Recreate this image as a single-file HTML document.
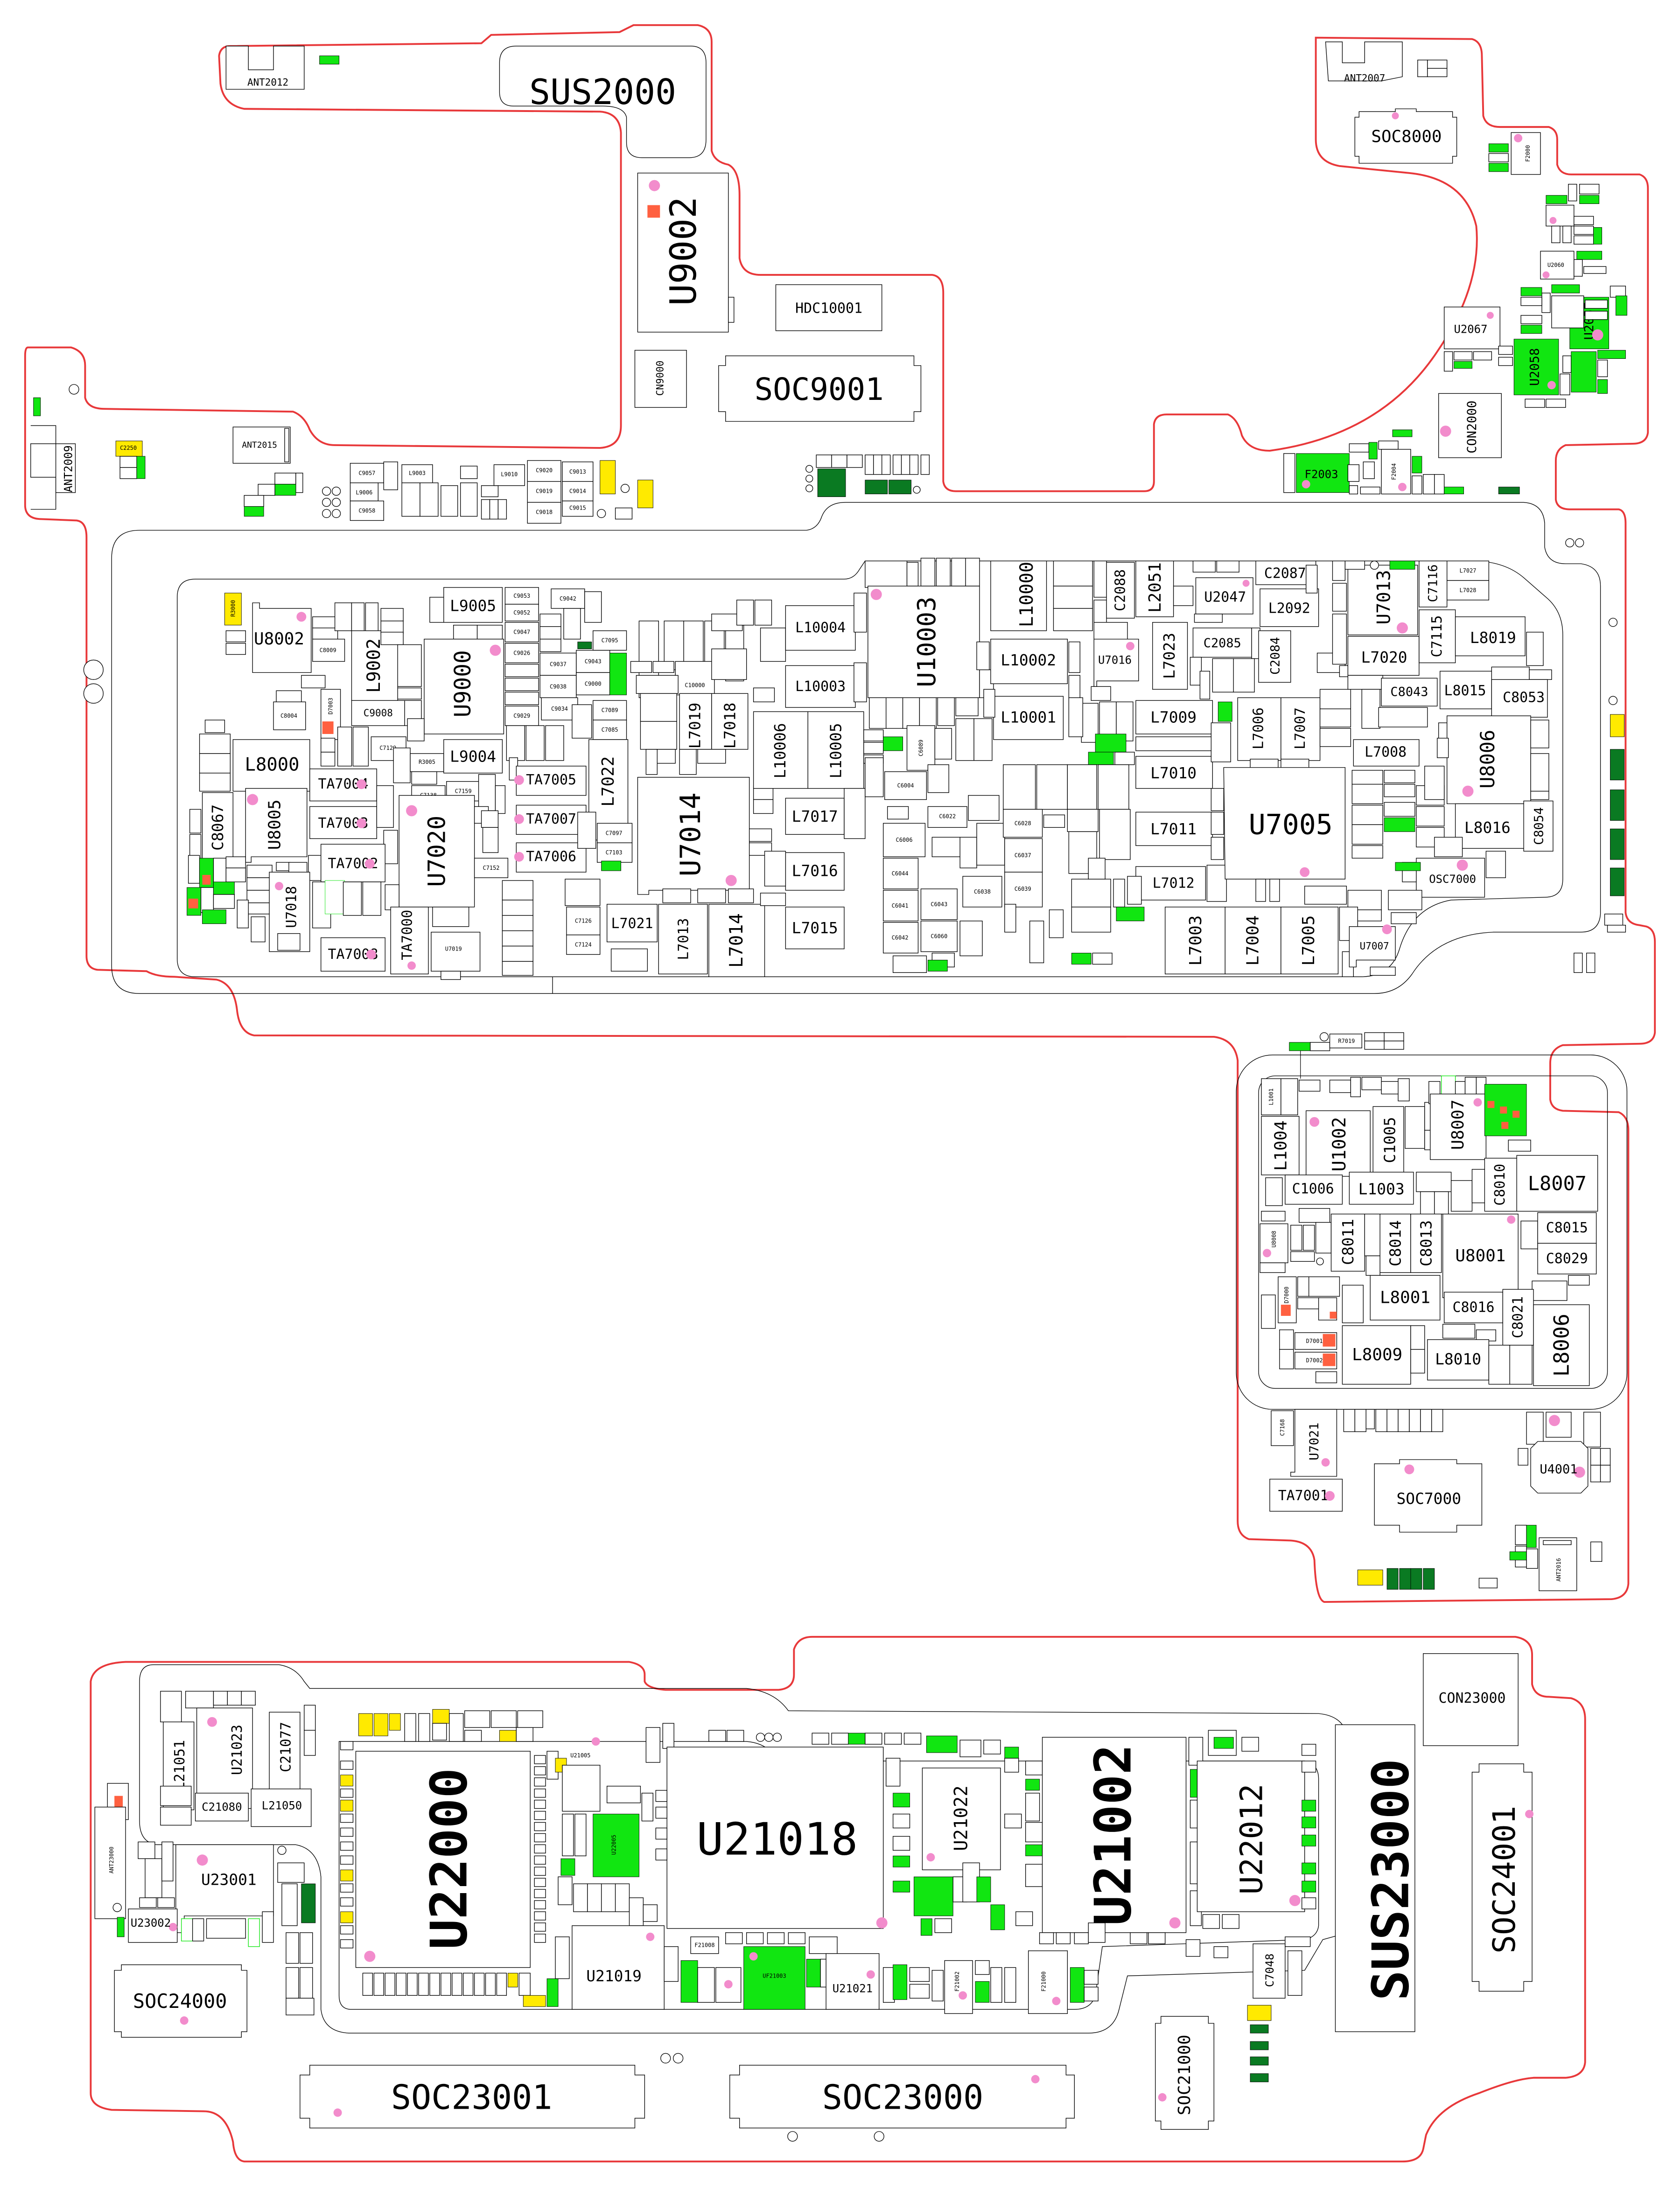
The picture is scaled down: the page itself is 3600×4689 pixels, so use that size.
<!DOCTYPE html>
<html><head><meta charset="utf-8"><style>
html,body{margin:0;padding:0;background:#fff}
svg{display:block}
.b{fill:#fff;stroke:#000;stroke-width:.45}
.g{fill:#11e611;stroke:#000;stroke-width:.3}
.y{fill:#ffea00;stroke:#000;stroke-width:.3}
.d{fill:#0a7a22;stroke:#000;stroke-width:.3}
.o{fill:#ff6040}
.p{fill:#f28ccc}
.r{fill:none;stroke:#e8383a;stroke-width:1.3}
.k{fill:none;stroke:#000;stroke-width:.45}
text{font-family:"DejaVu Sans Mono","Liberation Mono",monospace;text-anchor:middle;dominant-baseline:central;fill:#000}
.s{font-size:4px}
.m{font-size:7px}
</style></head><body>
<svg width="3600" height="4689" viewBox="0 0 1204 1568" preserveAspectRatio="none" xmlns="http://www.w3.org/2000/svg">
<rect width="1204" height="1568" fill="#fff"/>

<!-- red board outline top/main -->
<path class="r" d="M20,249 L51,249 Q61,252 61,262 L61,285 Q63,293 75,293 L210,295 Q218,298 222,308 Q228,319 240,319 L430,321 Q445,320 445,305 L445,95 Q444,81 430,80 L175,78 Q160,75 158,60 L157,40 Q158,33 165,33 L345,31 L352,25 L444,23 L454,18 L500,18 Q510,20 510,30 L510,108 Q512,116 522,118 Q530,122 530,140 L530,185 Q532,197 545,197 L668,197 Q676,198 676,210 L676,345 Q677,352 685,352 L820,352 Q827,352 827,345 L827,304 Q828,297 836,297 L880,297 Q887,300 890,312 Q895,323 910,323 Q990,312 1030,252 Q1062,205 1058,162 Q1050,128 1010,124 L960,119 Q943,116 943,100 L943,27 L1055,28 Q1062,30 1062,40 L1063,83 Q1065,91 1075,91 L1110,91 Q1116,93 1116,100 L1116,118 Q1118,125 1126,125 L1175,125 Q1181,127 1181,135 L1181,310 Q1180,318 1170,318 L1122,319 Q1115,322 1115,330 L1115,358 Q1116,365 1125,365 L1160,365 Q1165,366 1165,375 L1165,654 Q1166,662 1175,663 L1180,664 Q1186,666 1186,675 L1186,740 Q1185,748 1175,748 L1120,749 Q1111,752 1111,762 L1111,788 Q1112,795 1120,796 L1160,797 Q1167,800 1167,810 L1167,1135 Q1166,1145 1155,1146 L949,1148 Q943,1146 942,1118 Q940,1105 925,1104 L895,1103 Q887,1100 887,1090 L887,760 Q885,745 870,743 L182,742 Q172,740 170,725 Q168,705 155,702 L125,700 Q112,700 105,696 L70,695 Q62,694 62,685 L62,385 Q62,374 55,373 L30,372 Q18,372 18,362 L18,255 Q18,249 20,249 Z"/>
<!-- bottom red outline -->
<path class="r" d="M90,1191 L451,1191 Q462,1193 462,1200 L462,1205 Q464,1210 477,1211 L558,1211 Q569,1210 569,1200 L569,1182 Q572,1173 582,1173 L1086,1173 Q1098,1175 1098,1186 L1098,1207 Q1100,1216 1110,1216 L1126,1217 Q1136,1220 1136,1232 L1136,1478 Q1135,1488 1122,1489 L1099,1489 Q1085,1490 1060,1500 Q1030,1510 1022,1530 L1020,1540 Q1018,1549 1005,1549 L175,1549 Q168,1548 167,1535 Q162,1513 146,1513 L80,1512 Q65,1510 65,1500 L65,1205 Q67,1192 90,1191 Z"/>

<!-- gray board outlines -->
<path class="k" d="M100,380 L578,380 Q586,379 589,370 Q593,360 606,360 L1092,360 Q1106,361 1107,375 L1107,392 Q1109,404 1122,404 L1133,404 Q1147,406 1147,420 L1147,655 Q1146,668 1133,668 L1070,668 Q1030,670 1012,698 Q1002,712 985,712 L100,712 Q80,712 80,692 L80,400 Q80,380 100,380 Z"/>
<path class="k" d="M140,415 L605,415 Q612,415 616,408 L620,402 L1055,402 Q1078,402 1092,414 L1108,428 Q1120,438 1120,455 L1120,630 Q1120,643 1107,643 L1040,645 Q1012,650 1003,680 Q997,700 975,700 L140,700 Q127,700 127,687 L127,428 Q127,415 140,415 Z"/>
<line x1="396" y1="700" x2="396" y2="712" stroke="#000" stroke-width=".45"/>
<rect class="k" x="886" y="756" width="280" height="254" rx="26"/>
<rect class="k" x="902" y="771" width="250" height="224" rx="12"/>
<path class="k" d="M110,1193 L200,1193 Q212,1195 218,1205 L222,1210 L535,1210 Q555,1212 565,1226 L945,1228 Q966,1230 966,1250 L966,1385 L948,1390 L935,1412 L808,1416 L802,1440 Q798,1457 780,1457 L250,1457 Q232,1456 230,1440 L230,1345 Q228,1325 212,1322 L112,1322 Q100,1320 100,1305 L100,1205 Q100,1193 110,1193 Z"/>
<path class="k" d="M243,1248 L535,1248 Q548,1249 555,1258 L560,1262 L935,1262 Q945,1264 945,1275 L945,1380 Q944,1388 935,1390 L790,1395 L785,1430 Q782,1440 770,1440 L252,1440 Q243,1440 243,1430 Z"/>

<!-- ===== TOP LEFT ===== -->
<path class="b" d="M162,33 L178,33 L178,50 L196,50 L196,33 L218,33 L218,64 L162,64 Z"/>
<text x="192" y="59" class="m">ANT2012</text>
<rect class="g" x="229" y="40" width="14" height="6"/>
<path class="b" d="M370,33 L495,33 Q506,33 506,45 L506,100 Q506,113 494,113 L460,113 Q449,113 449,102 L449,84 Q447,76 432,76 L368,76 Q358,76 358,66 L358,45 Q358,33 370,33 Z"/>
<text x="432" y="66" font-size="25">SUS2000</text>
<rect class="b" x="457" y="124" width="65" height="114"/>
<circle class="p" cx="469" cy="133" r="4"/><rect class="o" x="464" y="147" width="9" height="9"/>
<text transform="translate(490,180) rotate(-90)" font-size="26">U9002</text>
<rect class="b" x="522" y="213" width="4" height="18"/>
<rect class="b" x="556" y="204" width="76" height="33"/><text x="594" y="221" font-size="10">HDC10001</text>
<rect class="b" x="455" y="251" width="37" height="41"/><text transform="translate(473,271) rotate(-90)" font-size="7">CN9000</text>
<path class="b" d="M520,255 L655,255 L655,262 L660,262 L660,295 L655,295 L655,302 L520,302 L520,295 L515,295 L515,262 L520,262 Z"/>
<text x="587" y="279" font-size="22">SOC9001</text>
<rect class="b" x="167" y="306" width="41" height="26"/><rect class="b" x="204" y="307" width="3" height="24"/><text x="186" y="319" font-size="6">ANT2015</text>
<path class="b" d="M22,305 L40,305 L40,318 L22,318 L22,342 L40,342 L40,365 L22,365"/>
<rect class="b" x="40" y="318" width="14" height="35"/>
<text transform="translate(49,336) rotate(-90)" font-size="8">ANT2009</text>
<rect class="g" x="24" y="285" width="5" height="13"/>
<circle class="b" cx="53" cy="279" r="3.5"/>
<rect class="y" x="83" y="316" width="19" height="11"/><text x="92" y="321" class="s">C2250</text>
<rect class="b" x="86" y="327" width="12" height="8"/><rect class="b" x="86" y="335" width="12" height="8"/><rect class="g" x="98" y="327" width="6" height="16"/>
<rect class="b" x="197" y="339" width="15" height="8"/><rect class="b" x="212" y="339" width="5" height="14"/><rect class="g" x="197" y="347" width="15" height="8"/><rect class="b" x="185" y="347" width="12" height="8"/><rect class="b" x="175" y="355" width="14" height="8"/><rect class="g" x="175" y="363" width="14" height="7"/>
<circle class="b" cx="234" cy="352" r="3"/><circle class="b" cx="241" cy="352" r="3"/><circle class="b" cx="234" cy="360" r="3"/><circle class="b" cx="241" cy="360" r="3"/><circle class="b" cx="234" cy="368" r="3"/><circle class="b" cx="241" cy="368" r="3"/>
<rect class="b" x="251" y="332" width="24" height="14"/><text x="263" y="339" class="s">C9057</text>
<rect class="b" x="251" y="346" width="20" height="13"/><text x="261" y="353" class="s">L9006</text>
<rect class="b" x="251" y="359" width="24" height="14"/><text x="263" y="366" class="s">C9058</text>
<rect class="b" x="275" y="331" width="10" height="20"/><rect class="b" x="288" y="333" width="22" height="13"/><text x="299" y="339" class="s">L9003</text>
<rect class="b" x="288" y="346" width="13" height="24"/><rect class="b" x="301" y="346" width="13" height="24"/><rect class="b" x="316" y="348" width="12" height="22"/><rect class="b" x="330" y="346" width="12" height="24"/>
<rect class="b" x="330" y="334" width="12" height="9"/><rect class="b" x="345" y="348" width="12" height="8"/><rect class="b" x="345" y="358" width="6" height="14"/><rect class="b" x="351" y="358" width="6" height="14"/><rect class="b" x="357" y="358" width="6" height="14"/>
<rect class="b" x="354" y="333" width="22" height="15"/><text x="365" y="340" class="s">L9010</text>
<rect class="b" x="378" y="330" width="24" height="15"/><text x="390" y="337" class="s">C9020</text>
<rect class="b" x="378" y="345" width="24" height="15"/><text x="390" y="352" class="s">C9019</text>
<rect class="b" x="378" y="360" width="24" height="15"/><text x="390" y="367" class="s">C9018</text>
<rect class="b" x="403" y="331" width="22" height="14"/><text x="414" y="338" class="s">C9013</text>
<rect class="b" x="403" y="345" width="22" height="14"/><text x="414" y="352" class="s">C9014</text>
<rect class="b" x="403" y="359" width="22" height="11"/><text x="414" y="364" class="s">C9015</text>
<rect class="y" x="430" y="330" width="11" height="24"/><rect class="y" x="457" y="344" width="11" height="20"/>
<rect class="b" x="441" y="364" width="12" height="8"/><circle class="b" cx="431" cy="368" r="3"/><circle class="b" cx="448" cy="350" r="3"/>

<!-- mid top green cluster -->
<rect class="b" x="585" y="326" width="11" height="9"/><rect class="b" x="596" y="326" width="11" height="9"/><rect class="b" x="607" y="326" width="11" height="9"/>
<rect class="b" x="620" y="326" width="6" height="14"/><rect class="b" x="626" y="326" width="6" height="14"/><rect class="b" x="632" y="326" width="6" height="14"/><rect class="b" x="640" y="326" width="6" height="14"/><rect class="b" x="646" y="326" width="6" height="14"/><rect class="b" x="652" y="326" width="6" height="14"/><rect class="b" x="660" y="326" width="6" height="14"/>
<rect class="d" x="586" y="336" width="20" height="20"/><rect class="d" x="620" y="344" width="16" height="10"/><rect class="d" x="637" y="344" width="16" height="10"/>
<circle class="b" cx="580" cy="336" r="2.5"/><circle class="b" cx="580" cy="343" r="2.5"/><circle class="b" cx="580" cy="350" r="2.5"/><circle class="b" cx="657" cy="351" r="2.5"/>

<!-- ===== TOP RIGHT ===== -->
<path class="b" d="M950,30 L962,30 L962,45 L978,45 L978,30 L1005,30 L1005,55 L990,58 L952,58 Z"/>
<text x="978" y="56" class="m">ANT2007</text>
<rect class="b" x="1016" y="43" width="7" height="12"/><rect class="b" x="1023" y="43" width="14" height="6"/><rect class="b" x="1023" y="49" width="14" height="6"/>
<path class="b" d="M974,80 L1000,80 L1000,78 L1015,78 L1015,80 L1041,80 L1041,84 L1044,84 L1044,112 L1041,112 L1041,117 L974,117 L974,112 L971,112 L971,84 L974,84 Z"/>
<circle class="p" cx="1000" cy="83" r="2.5"/>
<text x="1008" y="98" font-size="12">SOC8000</text>
<rect class="b" x="1083" y="95" width="21" height="30"/><circle class="p" cx="1088" cy="99" r="3"/><text transform="translate(1095,110) rotate(-90)" class="s" font-size="6">F2000</text>
<rect class="g" x="1067" y="103" width="14" height="6"/><rect class="b" x="1067" y="110" width="14" height="6"/><rect class="g" x="1067" y="117" width="14" height="6"/>
<rect class="g" x="1108" y="140" width="15" height="6"/><rect class="b" x="1124" y="132" width="6" height="12"/><rect class="b" x="1132" y="132" width="14" height="7"/><rect class="g" x="1132" y="140" width="14" height="6"/>
<rect class="b" x="1108" y="147" width="20" height="15"/><circle class="p" cx="1113" cy="158" r="2.5"/><rect class="b" x="1128" y="155" width="14" height="6"/><rect class="b" x="1128" y="162" width="14" height="6"/><rect class="b" x="1128" y="169" width="14" height="6"/><rect class="g" x="1142" y="163" width="6" height="12"/>
<rect class="b" x="1112" y="162" width="6" height="12"/><rect class="b" x="1120" y="162" width="6" height="12"/><rect class="g" x="1130" y="180" width="18" height="6"/>
<rect class="b" x="1104" y="180" width="24" height="20"/><text x="1115" y="190" class="s">U2060</text><circle class="p" cx="1108" cy="197" r="2.5"/>
<rect class="b" x="1128" y="186" width="6" height="12"/><rect class="b" x="1135" y="191" width="16" height="5"/>
<rect class="g" x="1125" y="213" width="28" height="37"/><text transform="translate(1139,230) rotate(-90)" font-size="9">U2057</text><circle class="p" cx="1145" cy="240" r="4"/>
<rect class="b" x="1154" y="205" width="11" height="8"/><rect class="g" x="1158" y="212" width="8" height="14"/><rect class="g" x="1145" y="251" width="20" height="6"/>
<rect class="b" x="1105" y="210" width="6" height="14"/><rect class="g" x="1090" y="206" width="15" height="6"/><rect class="b" x="1090" y="213" width="15" height="6"/><rect class="b" x="1090" y="226" width="15" height="6"/><rect class="g" x="1090" y="233" width="15" height="6"/><rect class="g" x="1112" y="204" width="20" height="6"/>
<rect class="b" x="1112" y="212" width="23" height="23"/><rect class="b" x="1136" y="215" width="16" height="6"/><rect class="b" x="1136" y="223" width="16" height="6"/>
<rect class="b" x="1035" y="220" width="40" height="30"/><text x="1054" y="236" font-size="8">U2067</text><circle class="p" cx="1068" cy="226" r="2.5"/>
<rect class="b" x="1035" y="252" width="6" height="14"/><rect class="b" x="1042" y="252" width="13" height="6"/><rect class="b" x="1056" y="252" width="13" height="6"/><rect class="g" x="1042" y="259" width="13" height="5"/>
<rect class="g" x="1085" y="243" width="32" height="40"/><text transform="translate(1100,263) rotate(-90)" font-size="9">U2058</text><circle class="p" cx="1112" cy="276" r="3"/>
<rect class="b" x="1074" y="248" width="10" height="6"/><rect class="b" x="1074" y="256" width="10" height="6"/><rect class="b" x="1120" y="255" width="6" height="12"/><rect class="b" x="1118" y="268" width="7" height="15"/>
<rect class="g" x="1126" y="252" width="18" height="29"/><rect class="b" x="1145" y="258" width="7" height="12"/><rect class="g" x="1145" y="272" width="7" height="10"/>
<rect class="b" x="1093" y="286" width="14" height="6"/><rect class="b" x="1108" y="286" width="14" height="6"/>
<rect class="b" x="1031" y="282" width="45" height="46"/><circle class="p" cx="1036" cy="309" r="4"/><text transform="translate(1055,306) rotate(-90)" font-size="9">CON2000</text>
<rect class="g" x="929" y="325" width="38" height="28"/><text x="947" y="340" font-size="8">F2003</text><circle class="p" cx="936" cy="347" r="3"/>
<rect class="b" x="920" y="325" width="8" height="28"/><rect class="b" x="967" y="318" width="14" height="6"/><rect class="g" x="981" y="317" width="6" height="12"/><rect class="b" x="966" y="333" width="8" height="12"/><rect class="b" x="977" y="331" width="8" height="12"/><rect class="b" x="967" y="348" width="6" height="6"/><rect class="b" x="975" y="349" width="14" height="5"/>
<rect class="b" x="988" y="316" width="14" height="6"/><rect class="g" x="998" y="308" width="14" height="5"/><rect class="b" x="990" y="322" width="21" height="32"/><circle class="p" cx="1005" cy="349" r="3"/><text transform="translate(999,338) rotate(-90)" class="s" font-size="6">F2004</text>
<rect class="g" x="1012" y="327" width="7" height="12"/><rect class="b" x="1012" y="341" width="7" height="13"/><rect class="b" x="1020" y="340" width="8" height="14"/><rect class="b" x="1028" y="340" width="7" height="14"/><rect class="g" x="1035" y="349" width="14" height="5"/><rect class="d" x="1074" y="349" width="15" height="5"/>

<!-- ===== MAIN BOARD ===== -->
<rect class="y" x="161" y="425" width="12" height="23"/><text transform="translate(167,436) rotate(-90)" class="s">R3000</text>
<rect class="b" x="162" y="452" width="14" height="8"/><rect class="b" x="162" y="461" width="14" height="8"/>
<path class="b" d="M181,432 L186,432 L186,436 L223,436 L223,482 L181,482 Z"/><circle class="p" cx="216" cy="442" r="3.5"/><text x="200" y="458" font-size="12">U8002</text>
<rect class="b" x="224" y="442" width="18" height="8"/><rect class="b" x="224" y="450" width="18" height="8"/><rect class="b" x="224" y="458" width="23" height="16"/><text x="235" y="466" class="s">C8009</text>
<rect class="b" x="240" y="432" width="12" height="20"/><rect class="b" x="252" y="432" width="9" height="20"/><rect class="b" x="262" y="432" width="9" height="20"/>
<rect class="b" x="252" y="452" width="33" height="50"/><text transform="translate(268,477) rotate(-90)" font-size="13">L9002</text>
<rect class="b" x="273" y="436" width="16" height="9"/><rect class="b" x="273" y="445" width="16" height="9"/><rect class="b" x="273" y="453" width="16" height="9"/><rect class="b" x="285" y="462" width="17" height="30"/><rect class="b" x="285" y="493" width="17" height="8"/>
<rect class="b" x="318" y="421" width="42" height="25"/><text x="339" y="434" font-size="11">L9005</text><rect class="b" x="308" y="428" width="10" height="18"/>
<rect class="b" x="325" y="448" width="17" height="10"/><rect class="b" x="342" y="448" width="18" height="10"/>
<rect class="b" x="304" y="458" width="57" height="68"/><circle class="p" cx="355" cy="466" r="4"/><text transform="translate(332,490) rotate(-90)" font-size="16">U9000</text>
<rect class="b" x="362" y="421" width="24" height="12"/><text x="374" y="427" class="s">C9053</text><rect class="b" x="362" y="433" width="24" height="12"/><text x="374" y="439" class="s">C9052</text><rect class="b" x="362" y="446" width="24" height="14"/><text x="374" y="453" class="s">C9047</text><rect class="b" x="362" y="461" width="24" height="14"/><text x="374" y="468" class="s">C9026</text>
<rect class="b" x="387" y="440" width="15" height="9"/><rect class="b" x="387" y="449" width="15" height="9"/><rect class="b" x="387" y="458" width="15" height="9"/>
<rect class="b" x="395" y="422" width="24" height="14"/><text x="407" y="429" class="s">C9042</text><rect class="b" x="419" y="424" width="12" height="22"/><rect class="b" x="404" y="436" width="12" height="22"/>
<rect class="b" x="362" y="476" width="24" height="9"/><rect class="b" x="362" y="486" width="24" height="9"/><rect class="b" x="362" y="496" width="24" height="9"/><rect class="b" x="387" y="468" width="26" height="16"/><text x="400" y="476" class="s">C9037</text><rect class="b" x="387" y="484" width="26" height="16"/><text x="400" y="492" class="s">C9038</text><rect class="b" x="388" y="500" width="26" height="16"/><text x="401" y="508" class="s">C9034</text><rect class="b" x="362" y="506" width="24" height="14"/><text x="374" y="513" class="s">C9029</text>
<rect class="b" x="413" y="466" width="24" height="16"/><text x="425" y="474" class="s">C9043</text><rect class="b" x="413" y="482" width="24" height="16"/><text x="425" y="490" class="s">C9000</text><rect class="g" x="437" y="468" width="12" height="30"/><rect class="b" x="425" y="452" width="24" height="14"/><text x="437" y="459" class="s">C7095</text><rect class="d" x="414" y="460" width="10" height="5"/>
<rect class="b" x="363" y="520" width="13" height="25"/><rect class="b" x="377" y="520" width="13" height="25"/><rect class="b" x="391" y="520" width="13" height="25"/>
<rect class="b" x="410" y="505" width="14" height="24"/><rect class="b" x="425" y="502" width="24" height="14"/><text x="437" y="509" class="s">C7089</text><rect class="b" x="425" y="516" width="24" height="14"/><text x="437" y="523" class="s">C7085</text>
<rect class="b" x="230" y="494" width="14" height="36"/><rect class="o" x="231" y="517" width="8" height="9"/><text transform="translate(237,506) rotate(-90)" class="s" font-size="6">D7003</text>
<rect class="b" x="216" y="484" width="17" height="9"/><rect class="b" x="198" y="495" width="18" height="8"/><rect class="b" x="196" y="503" width="23" height="20"/><text x="207" y="513" class="s">C8004</text>
<rect class="b" x="252" y="502" width="38" height="18"/><text x="271" y="511" class="m">C9008</text><rect class="b" x="290" y="502" width="12" height="18"/>
<rect class="b" x="147" y="516" width="14" height="9"/><rect class="b" x="143" y="526" width="22" height="14"/><rect class="b" x="143" y="540" width="22" height="14"/><rect class="b" x="143" y="554" width="22" height="13"/>
<rect class="b" x="167" y="530" width="55" height="37"/><text x="195" y="548" font-size="13">L8000</text>
<rect class="b" x="230" y="529" width="10" height="10"/><rect class="b" x="230" y="539" width="10" height="10"/><rect class="b" x="242" y="521" width="10" height="28"/><rect class="b" x="253" y="521" width="11" height="28"/><rect class="b" x="266" y="528" width="25" height="17"/><text x="278" y="536" class="s">C7129</text><rect class="b" x="292" y="515" width="12" height="16"/>
<rect class="b" x="282" y="536" width="12" height="25"/><rect class="b" x="294" y="540" width="24" height="13"/><text x="306" y="546" class="s">R3005</text><rect class="b" x="295" y="553" width="18" height="9"/>
<rect class="b" x="318" y="530" width="42" height="24"/><text x="339" y="542" font-size="11">L9004</text>
<rect class="b" x="295" y="563" width="24" height="14"/><text x="307" y="570" class="s">C7138</text><rect class="b" x="320" y="560" width="24" height="14"/><text x="332" y="567" class="s">C7159</text><rect class="b" x="343" y="555" width="12" height="26"/><rect class="b" x="355" y="563" width="7" height="20"/>
<rect class="b" x="222" y="551" width="48" height="23"/><text x="246" y="562" font-size="10">TA7004</text><circle class="p" cx="259" cy="562" r="3.5"/>
<rect class="b" x="222" y="578" width="48" height="23"/><text x="246" y="590" font-size="10">TA7003</text><circle class="p" cx="259" cy="590" r="3.5"/>
<rect class="b" x="270" y="563" width="12" height="30"/><rect class="b" x="275" y="595" width="10" height="24"/>
<rect class="b" x="286" y="570" width="54" height="80"/><circle class="p" cx="295" cy="581" r="4"/><text transform="translate(313,610) rotate(-90)" font-size="17">U7020</text>
<rect class="b" x="340" y="578" width="10" height="12"/><rect class="b" x="345" y="581" width="12" height="12"/><rect class="b" x="346" y="593" width="11" height="18"/><rect class="b" x="340" y="615" width="24" height="14"/><text x="352" y="622" class="s">C7152</text>
<rect class="b" x="145" y="568" width="22" height="50"/><text transform="translate(156,593) rotate(-90)" font-size="11">C8067</text>
<rect class="b" x="136" y="580" width="8" height="17"/><rect class="b" x="136" y="598" width="8" height="17"/>
<path class="b" d="M176,565 L220,565 L220,614 L180,614 L180,618 L176,618 Z"/><circle class="p" cx="181" cy="573" r="4"/><text transform="translate(197,591) rotate(-90)" font-size="12">U8005</text>
<rect class="b" x="198" y="618" width="10" height="6"/><rect class="b" x="207" y="618" width="13" height="9"/><rect class="b" x="221" y="613" width="9" height="18"/>
<rect class="b" x="230" y="605" width="46" height="27"/><text x="253" y="619" font-size="10">TA7002</text><circle class="p" cx="265" cy="619" r="3.5"/>
<rect class="b" x="135" y="613" width="8" height="20"/><rect class="g" x="143" y="615" width="10" height="23"/><rect class="o" x="145" y="627" width="6" height="7"/><rect class="b" x="153" y="615" width="9" height="20"/><rect class="b" x="162" y="614" width="14" height="8"/><rect class="b" x="162" y="622" width="14" height="10"/>
<rect class="g" x="134" y="636" width="10" height="20"/><rect class="o" x="135" y="644" width="7" height="7"/><rect class="b" x="144" y="636" width="9" height="18"/><rect class="g" x="153" y="632" width="15" height="9"/><rect class="b" x="153" y="641" width="15" height="10"/><rect class="g" x="145" y="652" width="17" height="10"/>
<rect class="b" x="177" y="620" width="18" height="9"/><rect class="b" x="177" y="629" width="18" height="9"/><rect class="b" x="177" y="638" width="18" height="9"/><rect class="b" x="177" y="647" width="18" height="8"/><rect class="b" x="170" y="645" width="8" height="20"/><rect class="b" x="180" y="657" width="10" height="18"/>
<path class="b" d="M193,625 L222,625 L222,682 L193,682 Z"/><circle class="p" cx="200" cy="635" r="3"/><text transform="translate(209,650) rotate(-90)" font-size="10">U7018</text>
<rect class="b" x="224" y="632" width="13" height="33"/><rect class="g" x="233" y="631" width="14" height="24" style="fill:#fff;stroke:#11e611"/><rect class="b" x="246" y="632" width="13" height="24"/><rect class="b" x="260" y="632" width="13" height="24"/><rect class="b" x="276" y="634" width="10" height="18"/>
<rect class="b" x="230" y="672" width="46" height="24"/><text x="253" y="684" font-size="10">TA7008</text><circle class="p" cx="266" cy="684" r="3.5"/>
<rect class="b" x="199" y="669" width="16" height="12"/>
<rect class="b" x="280" y="650" width="27" height="48"/><circle class="p" cx="295" cy="692" r="3"/><text transform="translate(292,670) rotate(-90)" font-size="10">TA7000</text>
<rect class="b" x="310" y="650" width="26" height="14"/><rect class="b" x="309" y="668" width="35" height="28"/><text x="325" y="680" class="s" font-size="6">U7019</text><rect class="b" x="316" y="696" width="14" height="6"/>
<rect class="b" x="360" y="631" width="22" height="14"/><rect class="b" x="360" y="645" width="22" height="11"/><rect class="b" x="360" y="656" width="22" height="11"/><rect class="b" x="360" y="667" width="22" height="11"/><rect class="b" x="360" y="678" width="22" height="11"/><rect class="b" x="360" y="689" width="22" height="10"/>
<rect class="b" x="365" y="543" width="6" height="16"/>
<rect class="b" x="370" y="549" width="50" height="21"/><text x="395" y="559" font-size="10">TA7005</text><circle class="p" cx="372" cy="559" r="3.5"/>
<rect class="b" x="370" y="577" width="50" height="21"/><text x="395" y="587" font-size="10">TA7007</text><circle class="p" cx="372" cy="587" r="3.5"/>
<rect class="b" x="370" y="604" width="50" height="21"/><text x="395" y="614" font-size="10">TA7006</text><circle class="p" cx="372" cy="614" r="3.5"/>
<rect class="b" x="405" y="630" width="25" height="19"/><rect class="b" x="406" y="650" width="24" height="20"/><text x="418" y="660" class="s">C7126</text><rect class="b" x="406" y="670" width="24" height="14"/><text x="418" y="677" class="s">C7124</text>
<rect class="b" x="422" y="530" width="28" height="72"/><text transform="translate(436,560) rotate(-90)" font-size="12">L7022</text>
<rect class="b" x="414" y="582" width="13" height="26"/><rect class="b" x="428" y="590" width="25" height="14"/><text x="440" y="597" class="s">C7097</text><rect class="b" x="428" y="604" width="25" height="14"/><text x="440" y="611" class="s">C7103</text><rect class="g" x="431" y="617" width="14" height="7"/>
<rect class="b" x="435" y="648" width="36" height="27"/><text x="453" y="662" font-size="10">L7021</text><rect class="b" x="438" y="680" width="26" height="16"/>
<rect class="b" x="458" y="445" width="14" height="55"/><rect class="b" x="476" y="445" width="14" height="35"/><rect class="b" x="490" y="445" width="14" height="35"/><rect class="b" x="505" y="445" width="14" height="35"/><rect class="b" x="520" y="448" width="13" height="40"/><rect class="b" x="545" y="450" width="18" height="24"/>
<rect class="b" x="452" y="474" width="15" height="8"/><rect class="b" x="468" y="474" width="15" height="8"/><rect class="b" x="484" y="474" width="28" height="24"/><text x="498" y="491" class="s">C10000</text><rect class="b" x="456" y="484" width="30" height="13"/>
<rect class="b" x="510" y="440" width="22" height="12"/><rect class="b" x="528" y="430" width="12" height="18"/><rect class="b" x="541" y="430" width="12" height="18"/><rect class="b" x="510" y="465" width="25" height="22"/>
<rect class="b" x="459" y="497" width="26" height="20"/><rect class="b" x="459" y="517" width="26" height="20"/><rect class="b" x="470" y="537" width="14" height="10"/><rect class="b" x="463" y="537" width="8" height="18"/>
<rect class="b" x="487" y="497" width="23" height="40"/><text transform="translate(498,520) rotate(-90)" font-size="11">L7019</text>
<rect class="b" x="510" y="497" width="26" height="40"/><text transform="translate(523,520) rotate(-90)" font-size="11">L7018</text>
<rect class="b" x="487" y="537" width="12" height="18"/><rect class="b" x="500" y="537" width="20" height="10"/><rect class="b" x="540" y="493" width="15" height="10"/>
<path class="b" d="M457,557 L537,557 L537,638 L465,638 L465,641 L457,641 Z"/><circle class="p" cx="524" cy="631" r="4"/><text transform="translate(495,598) rotate(-90)" font-size="20">U7014</text>
<rect class="b" x="540" y="563" width="14" height="10"/><rect class="b" x="540" y="573" width="14" height="10"/><rect class="b" x="537" y="594" width="16" height="9"/><rect class="b" x="537" y="604" width="16" height="9"/>
<rect class="b" x="475" y="637" width="20" height="10"/><rect class="b" x="500" y="637" width="20" height="10"/><rect class="b" x="522" y="637" width="18" height="10"/>
<rect class="b" x="472" y="648" width="35" height="50"/><text transform="translate(490,673) rotate(-90)" font-size="10">L7013</text>
<rect class="b" x="508" y="648" width="40" height="52"/><text transform="translate(528,674) rotate(-90)" font-size="13">L7014</text>
<rect class="b" x="563" y="434" width="50" height="32"/><text x="588" y="450" font-size="10">L10004</text>
<rect class="b" x="563" y="477" width="50" height="30"/><text x="588" y="492" font-size="10">L10003</text>
<rect class="b" x="612" y="425" width="9" height="28"/><rect class="b" x="612" y="475" width="9" height="28"/>
<rect class="b" x="540" y="510" width="39" height="55"/><text transform="translate(559,538) rotate(-90)" font-size="11">L10006</text>
<rect class="b" x="579" y="510" width="40" height="55"/><text transform="translate(599,538) rotate(-90)" font-size="11">L10005</text>
<rect class="b" x="620" y="402" width="30" height="19"/><rect class="b" x="650" y="403" width="8" height="17"/><rect class="b" x="660" y="400" width="10" height="20"/><rect class="b" x="671" y="400" width="10" height="20"/><rect class="b" x="682" y="400" width="10" height="20"/><rect class="b" x="692" y="400" width="10" height="20"/>
<rect class="b" x="622" y="420" width="80" height="80"/><circle class="p" cx="628" cy="426" r="4"/><text transform="translate(664,460) rotate(-90)" font-size="18">U10003</text>
<rect class="b" x="702" y="480" width="10" height="20"/>
<rect class="b" x="623" y="500" width="12" height="22"/><rect class="b" x="635" y="500" width="12" height="22"/><rect class="b" x="647" y="500" width="12" height="22"/><rect class="b" x="659" y="500" width="12" height="22"/><rect class="b" x="672" y="500" width="12" height="20"/><rect class="b" x="685" y="500" width="16" height="13"/>
<rect class="b" x="619" y="523" width="14" height="8"/><rect class="b" x="619" y="532" width="14" height="8"/><rect class="g" x="633" y="528" width="14" height="10"/><rect class="b" x="619" y="541" width="14" height="6"/><rect class="b" x="650" y="520" width="20" height="32"/><text transform="translate(660,536) rotate(-90)" class="s" font-size="6">C6089</text>
<rect class="b" x="670" y="522" width="12" height="22"/><rect class="b" x="685" y="515" width="13" height="30"/><rect class="b" x="698" y="515" width="13" height="30"/>
<rect class="b" x="710" y="402" width="40" height="50"/><text transform="translate(736,426) rotate(-90)" font-size="13">L10000</text>
<rect class="b" x="710" y="458" width="55" height="32"/><text x="737" y="473" font-size="11">L10002</text>
<rect class="b" x="712" y="499" width="50" height="31"/><text x="737" y="514" font-size="11">L10001</text>
<rect class="b" x="700" y="460" width="9" height="20"/><rect class="b" x="705" y="494" width="8" height="20"/>
<rect class="b" x="755" y="402" width="28" height="18"/><rect class="b" x="755" y="420" width="28" height="16"/><rect class="b" x="755" y="436" width="28" height="16"/><rect class="b" x="784" y="402" width="9" height="26"/><rect class="b" x="784" y="430" width="9" height="18"/>
<rect class="b" x="793" y="403" width="20" height="40"/><text transform="translate(803,423) rotate(-90)" font-size="10">C2088</text>
<rect class="b" x="814" y="402" width="27" height="40"/><text transform="translate(828,421) rotate(-90)" font-size="12">L2051</text>
<rect class="b" x="784" y="446" width="24" height="14"/><rect class="b" x="766" y="460" width="8" height="22"/><rect class="b" x="766" y="484" width="8" height="16"/>
<path class="b" d="M784,458 L816,458 L816,488 L786,488 L786,492 L784,492 Z"/><circle class="p" cx="810" cy="463" r="3"/><text x="799" y="473" font-size="8">U7016</text>
<rect class="b" x="782" y="492" width="14" height="10"/><rect class="b" x="775" y="504" width="12" height="28"/><rect class="b" x="788" y="503" width="12" height="28"/><rect class="b" x="800" y="503" width="12" height="28"/><rect class="b" x="766" y="500" width="10" height="28"/>
<rect class="g" x="785" y="526" width="22" height="13"/><rect class="g" x="780" y="539" width="18" height="9"/><rect class="b" x="799" y="539" width="14" height="9"/>
<rect class="b" x="841" y="420" width="14" height="14"/><rect class="b" x="855" y="402" width="16" height="8"/><rect class="b" x="872" y="402" width="16" height="8"/>
<path class="b" d="M857,414 L898,414 L898,440 L857,440 Z"/><circle class="p" cx="893" cy="418" r="2.5"/><text x="878" y="428" font-size="10">U2047</text><rect class="b" x="856" y="440" width="20" height="6"/>
<rect class="b" x="900" y="402" width="43" height="17"/><text x="921" y="411" font-size="10">C2087</text>
<rect class="b" x="903" y="422" width="42" height="27"/><text x="924" y="436" font-size="10">L2092</text>
<rect class="b" x="826" y="446" width="25" height="48"/><text transform="translate(838,470) rotate(-90)" font-size="11">L7023</text>
<rect class="b" x="855" y="450" width="42" height="21"/><text x="876" y="461" font-size="9">C2085</text><rect class="b" x="897" y="450" width="6" height="22"/>
<rect class="b" x="853" y="471" width="8" height="20"/><rect class="b" x="860" y="481" width="7" height="20"/><rect class="b" x="869" y="472" width="15" height="24"/><rect class="b" x="884" y="472" width="15" height="24"/>
<rect class="b" x="902" y="452" width="23" height="37"/><text transform="translate(914,470) rotate(-90)" font-size="9">C2084</text>
<rect class="b" x="814" y="502" width="55" height="24"/><text x="841" y="514" font-size="11">L7009</text>
<rect class="b" x="814" y="528" width="55" height="10"/>
<rect class="b" x="814" y="542" width="55" height="23"/><text x="841" y="554" font-size="11">L7010</text>
<rect class="b" x="814" y="582" width="55" height="24"/><text x="841" y="594" font-size="11">L7011</text>
<rect class="b" x="814" y="621" width="50" height="24"/><text x="841" y="633" font-size="10">L7012</text>
<rect class="g" x="873" y="503" width="10" height="14"/><rect class="b" x="868" y="518" width="14" height="28"/><rect class="b" x="868" y="565" width="9" height="16"/><rect class="b" x="868" y="582" width="9" height="16"/><rect class="b" x="868" y="600" width="9" height="16"/><rect class="b" x="865" y="620" width="14" height="26"/>
<rect class="b" x="887" y="500" width="31" height="45"/><text transform="translate(902,522) rotate(-90)" font-size="10">L7006</text>
<rect class="b" x="918" y="500" width="28" height="45"/><text transform="translate(932,522) rotate(-90)" font-size="10">L7007</text>
<rect class="b" x="946" y="494" width="22" height="14"/><rect class="b" x="946" y="508" width="22" height="13"/><rect class="b" x="946" y="522" width="22" height="13"/><rect class="b" x="896" y="544" width="20" height="8"/><rect class="b" x="918" y="544" width="20" height="8"/>
<rect class="b" x="944" y="468" width="20" height="14"/><rect class="b" x="936" y="405" width="8" height="20"/><rect class="b" x="955" y="402" width="9" height="14"/><rect class="b" x="955" y="418" width="10" height="20"/><rect class="b" x="955" y="440" width="10" height="36"/><rect class="b" x="960" y="477" width="20" height="8"/>
<path class="b" d="M877,550 L964,550 L964,630 L878,630 Z"/><circle class="p" cx="935" cy="625" r="3.5"/><text x="925" y="591" font-size="20">U7005</text>
<rect class="b" x="935" y="635" width="30" height="13"/><rect class="b" x="900" y="630" width="7" height="16"/><rect class="b" x="910" y="630" width="7" height="16"/>
<rect class="b" x="966" y="405" width="50" height="50"/><circle class="p" cx="1005" cy="450" r="4"/><text transform="translate(992,428) rotate(-90)" font-size="13">U7013</text>
<rect class="b" x="964" y="402" width="14" height="6"/><rect class="g" x="996" y="402" width="18" height="6"/><circle class="b" cx="985" cy="405" r="3"/>
<rect class="b" x="966" y="456" width="51" height="28"/><text x="992" y="471" font-size="11">L7020</text>
<rect class="b" x="966" y="484" width="25" height="10"/><rect class="b" x="976" y="494" width="13" height="28"/><rect class="b" x="990" y="486" width="40" height="20"/><text x="1010" y="496" font-size="9">C8043</text>
<rect class="b" x="988" y="507" width="35" height="14"/><rect class="b" x="970" y="530" width="47" height="19"/><text x="993" y="539" font-size="10">L7008</text>
<rect class="b" x="969" y="552" width="22" height="10"/><rect class="b" x="969" y="562" width="22" height="14"/><rect class="b" x="969" y="577" width="22" height="14"/><rect class="b" x="969" y="591" width="22" height="14"/><rect class="b" x="969" y="606" width="22" height="9"/>
<rect class="b" x="992" y="552" width="22" height="9"/><rect class="b" x="992" y="562" width="22" height="9"/><rect class="b" x="992" y="575" width="22" height="10"/><rect class="g" x="992" y="586" width="22" height="10"/><rect class="b" x="1015" y="563" width="20" height="14"/><rect class="b" x="1015" y="578" width="20" height="14"/><rect class="b" x="1015" y="593" width="20" height="14"/>
<rect class="b" x="1021" y="549" width="14" height="24"/><rect class="b" x="1031" y="518" width="8" height="18"/>
<rect class="b" x="1017" y="402" width="20" height="33"/><text transform="translate(1027,418) rotate(-90)" font-size="9">C7116</text>
<rect class="b" x="1037" y="402" width="30" height="14"/><text x="1052" y="409" class="s" font-size="6">L7027</text><rect class="b" x="1037" y="416" width="30" height="14"/><text x="1052" y="423" class="s" font-size="6">L7028</text>
<rect class="b" x="1017" y="437" width="26" height="38"/><text transform="translate(1030,456) rotate(-90)" font-size="10">C7115</text>
<rect class="b" x="1043" y="442" width="50" height="28"/><text x="1070" y="457" font-size="11">L8019</text>
<rect class="b" x="1094" y="453" width="12" height="24"/><rect class="b" x="1069" y="478" width="27" height="10"/><rect class="b" x="1096" y="480" width="16" height="7"/>
<rect class="b" x="1032" y="481" width="37" height="27"/><text x="1050" y="495" font-size="10">L8015</text>
<rect class="b" x="1069" y="487" width="40" height="27"/><text x="1092" y="500" font-size="10">C8053</text>
<path class="b" d="M1037,513 L1097,513 L1097,576 L1037,576 Z"/><circle class="p" cx="1052" cy="567" r="4"/><text transform="translate(1066,544) rotate(-90)" font-size="14">U8006</text>
<rect class="b" x="1097" y="516" width="13" height="20"/><rect class="b" x="1097" y="540" width="13" height="27"/><rect class="b" x="1097" y="567" width="13" height="6"/><rect class="b" x="1030" y="529" width="8" height="14"/>
<rect class="b" x="1043" y="576" width="51" height="32"/><text x="1066" y="593" font-size="11">L8016</text>
<rect class="b" x="1092" y="574" width="21" height="36"/><text transform="translate(1103,592) rotate(-90)" font-size="9">C8054</text>
<rect class="b" x="1015" y="615" width="49" height="28"/><circle class="p" cx="1048" cy="620" r="4"/><text x="1041" y="630" font-size="8">OSC7000</text>
<rect class="b" x="1065" y="610" width="14" height="19"/><rect class="b" x="1028" y="600" width="20" height="14"/><rect class="b" x="1005" y="618" width="10" height="14"/><rect class="g" x="1000" y="618" width="18" height="6"/>
<rect class="b" x="966" y="638" width="24" height="14"/><rect class="b" x="995" y="638" width="24" height="14"/><rect class="b" x="972" y="652" width="18" height="8"/><rect class="b" x="997" y="654" width="18" height="8"/>
<rect class="b" x="960" y="650" width="13" height="24"/><rect class="b" x="962" y="682" width="8" height="18"/>
<path class="b" d="M967,664 L1000,664 L1000,688 L972,688 L972,693 L967,693 Z"/><circle class="p" cx="994" cy="666" r="3.5"/><text x="985" y="678" font-size="7">U7007</text><rect class="b" x="982" y="693" width="18" height="6"/>
<rect class="b" x="835" y="650" width="43" height="48"/><text transform="translate(857,674) rotate(-90)" font-size="12">L7003</text>
<rect class="b" x="878" y="650" width="40" height="48"/><text transform="translate(898,674) rotate(-90)" font-size="12">L7004</text>
<rect class="b" x="918" y="650" width="41" height="48"/><text transform="translate(938,674) rotate(-90)" font-size="12">L7005</text>
<rect class="b" x="563" y="572" width="42" height="26"/><text x="584" y="585" font-size="11">L7017</text>
<rect class="b" x="563" y="611" width="42" height="27"/><text x="584" y="624" font-size="11">L7016</text>
<rect class="b" x="563" y="650" width="42" height="30"/><text x="584" y="665" font-size="11">L7015</text>
<rect class="b" x="548" y="610" width="15" height="25"/><rect class="b" x="545" y="640" width="18" height="9"/>
<rect class="b" x="605" y="565" width="15" height="36"/><rect class="b" x="620" y="543" width="13" height="28"/>
<rect class="b" x="634" y="553" width="30" height="20"/><text x="649" y="563" class="s" font-size="6">C6004</text><rect class="b" x="665" y="548" width="15" height="20"/><rect class="b" x="636" y="578" width="15" height="9"/><rect class="b" x="633" y="590" width="30" height="24"/><text x="648" y="602" class="s" font-size="6">C6006</text>
<rect class="b" x="665" y="578" width="28" height="15"/><text x="679" y="585" class="s" font-size="6">C6022</text><rect class="b" x="694" y="570" width="22" height="18"/>
<rect class="b" x="633" y="615" width="25" height="22"/><text x="645" y="626" class="s" font-size="6">C6044</text><rect class="b" x="633" y="638" width="25" height="22"/><text x="645" y="649" class="s" font-size="6">C6041</text><rect class="b" x="633" y="661" width="25" height="22"/><text x="645" y="672" class="s" font-size="6">C6042</text>
<rect class="b" x="660" y="637" width="26" height="22"/><text x="673" y="648" class="s" font-size="6">C6043</text><rect class="b" x="660" y="660" width="26" height="22"/><text x="673" y="671" class="s" font-size="6">C6060</text>
<rect class="b" x="668" y="600" width="20" height="14"/><rect class="b" x="688" y="600" width="12" height="22"/><rect class="b" x="700" y="590" width="20" height="30"/><rect class="b" x="690" y="628" width="28" height="22"/><text x="704" y="639" class="s" font-size="6">C6038</text>
<rect class="b" x="720" y="601" width="27" height="24"/><text x="733" y="613" class="s" font-size="6">C6037</text><rect class="b" x="720" y="625" width="27" height="25"/><text x="733" y="637" class="s" font-size="6">C6039</text>
<rect class="b" x="719" y="548" width="23" height="32"/><rect class="b" x="743" y="548" width="22" height="32"/><rect class="b" x="765" y="548" width="21" height="32"/><rect class="b" x="787" y="548" width="22" height="32"/>
<rect class="b" x="719" y="580" width="28" height="20"/><text x="733" y="590" class="s" font-size="6">C6028</text><rect class="b" x="748" y="584" width="15" height="9"/><rect class="b" x="765" y="580" width="22" height="16"/><rect class="b" x="788" y="580" width="22" height="36"/><rect class="b" x="766" y="596" width="20" height="30"/>
<rect class="b" x="668" y="683" width="16" height="10"/><rect class="b" x="640" y="685" width="24" height="12"/><rect class="g" x="665" y="688" width="14" height="8"/><rect class="b" x="688" y="660" width="16" height="25"/><rect class="b" x="720" y="648" width="8" height="20"/><rect class="b" x="738" y="660" width="10" height="30"/><rect class="b" x="752" y="652" width="10" height="20"/><rect class="b" x="768" y="630" width="28" height="20"/><rect class="b" x="768" y="650" width="28" height="18"/><rect class="g" x="768" y="683" width="14" height="8"/><rect class="b" x="783" y="683" width="14" height="8"/><rect class="b" x="798" y="630" width="8" height="20"/><rect class="b" x="808" y="628" width="10" height="20"/><rect class="g" x="800" y="650" width="20" height="10"/><rect class="b" x="780" y="615" width="12" height="15"/>

<!-- left edge of main board -->
<circle class="b" cx="67" cy="480" r="7"/><circle class="b" cx="67" cy="497" r="7"/>
<rect class="y" x="1154" y="512" width="10" height="16"/><rect class="d" x="1154" y="537" width="10" height="22"/><rect class="d" x="1154" y="566" width="10" height="22"/><rect class="d" x="1154" y="594" width="10" height="22"/><rect class="d" x="1154" y="622" width="10" height="20"/>
<circle class="b" cx="1125" cy="389" r="3"/><circle class="b" cx="1132" cy="389" r="3"/><circle class="b" cx="1156" cy="446" r="3"/><circle class="b" cx="1156" cy="502" r="3"/>
<rect class="b" x="1150" y="655" width="13" height="8"/><rect class="b" x="1152" y="663" width="13" height="5"/><rect class="b" x="1128" y="683" width="6" height="14"/><rect class="b" x="1137" y="683" width="6" height="14"/>

<!-- ===== BOTTOM RIGHT BOARD ===== -->
<rect class="g" x="924" y="747" width="15" height="6"/><rect class="b" x="939" y="747" width="14" height="6"/><circle class="b" cx="949" cy="743" r="3"/>
<rect class="b" x="953" y="741" width="23" height="10"/><text x="965" y="746" class="s" font-size="5">R7019</text>
<rect class="b" x="978" y="740" width="14" height="6"/><rect class="b" x="992" y="740" width="14" height="6"/><rect class="b" x="978" y="746" width="14" height="6"/><rect class="b" x="992" y="746" width="14" height="6"/>
<line x1="932" y1="753" x2="932" y2="773" stroke="#000" stroke-width=".4"/>
<rect class="b" x="904" y="773" width="14" height="26"/><text transform="translate(911,786) rotate(-90)" class="s" font-size="5">L1001</text>
<rect class="b" x="918" y="773" width="12" height="26"/><rect class="b" x="931" y="774" width="15" height="8"/><rect class="b" x="953" y="774" width="15" height="9"/><rect class="b" x="968" y="772" width="7" height="14"/><rect class="b" x="976" y="772" width="14" height="9"/><rect class="b" x="990" y="775" width="15" height="9"/><rect class="b" x="1002" y="773" width="8" height="16"/>
<rect class="b" x="904" y="800" width="27" height="42"/><text transform="translate(918,821) rotate(-90)" font-size="12">L1004</text>
<rect class="b" x="936" y="796" width="46" height="47"/><circle class="p" cx="942" cy="804" r="3.5"/><text transform="translate(960,820) rotate(-90)" font-size="13">U1002</text>
<rect class="b" x="984" y="793" width="22" height="48"/><text transform="translate(996,817) rotate(-90)" font-size="11">C1005</text>
<rect class="b" x="982" y="842" width="16" height="8"/><rect class="b" x="1007" y="793" width="14" height="30"/><rect class="b" x="1021" y="790" width="6" height="20"/><rect class="b" x="1021" y="810" width="6" height="14"/>
<rect class="b" x="1024" y="775" width="8" height="16"/><rect class="b" x="1033" y="771" width="10" height="16" style="stroke:#11e611"/><rect class="b" x="1043" y="775" width="7" height="14"/><rect class="b" x="1050" y="772" width="8" height="14"/><rect class="b" x="1058" y="772" width="7" height="14"/>
<rect class="b" x="1025" y="784" width="40" height="47"/><circle class="p" cx="1059" cy="790" r="3"/><text transform="translate(1045,806) rotate(-90)" font-size="12">U8007</text>
<rect class="g" x="1064" y="777" width="30" height="37"/><rect class="o" x="1066" y="789" width="5" height="5"/><rect class="o" x="1075" y="793" width="5" height="5"/><rect class="o" x="1084" y="796" width="5" height="5"/><rect class="o" x="1076" y="804" width="5" height="5"/><rect class="b" x="1081" y="817" width="16" height="8"/>
<rect class="b" x="907" y="844" width="12" height="20"/><rect class="b" x="921" y="842" width="41" height="21"/><text x="941" y="852" font-size="10">C1006</text>
<rect class="b" x="967" y="840" width="46" height="23"/><text x="990" y="852" font-size="11">L1003</text>
<rect class="b" x="1015" y="840" width="25" height="14"/><rect class="b" x="1018" y="854" width="10" height="16"/><rect class="b" x="1028" y="854" width="10" height="16"/><rect class="b" x="1040" y="846" width="15" height="22"/><rect class="b" x="1055" y="838" width="10" height="24"/>
<rect class="b" x="1064" y="830" width="23" height="38"/><text transform="translate(1075,849) rotate(-90)" font-size="10">C8010</text>
<rect class="b" x="1087" y="828" width="58" height="40"/><text x="1116" y="848" font-size="14">L8007</text>
<rect class="b" x="904" y="868" width="17" height="7"/><rect class="b" x="931" y="866" width="22" height="10"/>
<rect class="b" x="903" y="877" width="20" height="28"/><circle class="p" cx="908" cy="898" r="3"/><text transform="translate(913,888) rotate(-90)" class="s" font-size="5">U8008</text>
<rect class="b" x="925" y="878" width="8" height="18"/><rect class="b" x="934" y="878" width="8" height="18"/><rect class="b" x="943" y="876" width="11" height="22"/><circle class="b" cx="946" cy="904" r="2.5"/><rect class="b" x="925" y="897" width="17" height="7"/><rect class="b" x="903" y="905" width="18" height="7"/>
<rect class="b" x="954" y="870" width="24" height="41"/><text transform="translate(966,890) rotate(-90)" font-size="11">C8011</text>
<rect class="b" x="978" y="870" width="12" height="30"/><rect class="b" x="979" y="900" width="10" height="14"/>
<rect class="b" x="989" y="870" width="22" height="42"/><text transform="translate(1000,891) rotate(-90)" font-size="11">C8014</text>
<rect class="b" x="1011" y="870" width="22" height="42"/><text transform="translate(1022,891) rotate(-90)" font-size="11">C8013</text>
<path class="b" d="M1034,870 L1088,870 L1088,926 L1036,926 L1036,930 L1034,930 Z"/><circle class="p" cx="1083" cy="874" r="3"/><text x="1061" y="900" font-size="12">U8001</text>
<rect class="b" x="1090" y="875" width="12" height="20"/><rect class="b" x="1102" y="869" width="42" height="22"/><text x="1123" y="880" font-size="10">C8015</text><rect class="b" x="1102" y="891" width="42" height="22"/><text x="1123" y="902" font-size="10">C8029</text>
<rect class="b" x="1124" y="914" width="15" height="7"/><rect class="b" x="1098" y="918" width="25" height="14"/>
<rect class="b" x="916" y="915" width="13" height="33"/><rect class="o" x="918" y="935" width="7" height="8"/><text transform="translate(922,928) rotate(-90)" class="s" font-size="5">D7000</text>
<rect class="b" x="904" y="928" width="10" height="24"/><rect class="b" x="930" y="915" width="8" height="14"/><rect class="b" x="938" y="915" width="22" height="14"/><rect class="b" x="930" y="930" width="16" height="8"/><rect class="b" x="945" y="930" width="13" height="16"/><rect class="o" x="953" y="940" width="5" height="5"/>
<rect class="b" x="962" y="921" width="15" height="27"/><rect class="b" x="982" y="914" width="50" height="32"/><text x="1007" y="930" font-size="12">L8001</text>
<rect class="b" x="1035" y="926" width="42" height="22"/><text x="1056" y="937" font-size="10">C8016</text>
<rect class="b" x="1077" y="924" width="22" height="40"/><text transform="translate(1088,944) rotate(-90)" font-size="10">C8021</text>
<rect class="b" x="1034" y="949" width="23" height="10"/><rect class="b" x="1058" y="953" width="14" height="8"/>
<rect class="b" x="928" y="955" width="30" height="12"/><rect class="o" x="948" y="956" width="9" height="9"/><text x="942" y="961" class="s" font-size="6">D7001</text>
<rect class="b" x="928" y="969" width="30" height="12"/><rect class="o" x="948" y="970" width="9" height="9"/><text x="942" y="975" class="s" font-size="6">D7002</text>
<rect class="b" x="917" y="953" width="10" height="14"/><rect class="b" x="917" y="967" width="10" height="14"/><rect class="b" x="943" y="983" width="15" height="8"/>
<rect class="b" x="962" y="950" width="49" height="42"/><text x="987" y="971" font-size="12">L8009</text>
<rect class="b" x="1011" y="950" width="10" height="17"/><rect class="b" x="1011" y="967" width="10" height="17"/>
<rect class="b" x="1023" y="960" width="44" height="29"/><text x="1045" y="974" font-size="11">L8010</text>
<rect class="b" x="1067" y="964" width="15" height="28"/><rect class="b" x="1082" y="964" width="16" height="28"/>
<rect class="b" x="1099" y="935" width="40" height="58"/><text transform="translate(1119,964) rotate(-90)" font-size="15">L8006</text>
<rect class="b" x="911" y="1011" width="16" height="25"/><text transform="translate(919,1023) rotate(-90)" class="s" font-size="6">C7168</text>
<path class="b" d="M928,1010 L958,1010 L958,1058 L925,1058 L925,1055 L928,1055 Z"/><circle class="p" cx="950" cy="1048" r="3"/><text transform="translate(942,1033) rotate(-90)" font-size="9">U7021</text>
<rect class="b" x="963" y="1010" width="8" height="16"/><rect class="b" x="971" y="1010" width="8" height="16"/><rect class="b" x="979" y="1010" width="6" height="14"/><rect class="b" x="986" y="1010" width="8" height="16"/><rect class="b" x="994" y="1010" width="8" height="16"/><rect class="b" x="1002" y="1010" width="8" height="16"/><rect class="b" x="1010" y="1010" width="8" height="16"/><rect class="b" x="1018" y="1010" width="8" height="16"/><rect class="b" x="1026" y="1010" width="8" height="16"/>
<rect class="b" x="910" y="1060" width="52" height="23"/><text x="934" y="1072" font-size="10">TA7001</text><circle class="p" cx="953" cy="1072" r="3.5"/>
<path class="b" d="M985,1049 L1003,1049 L1003,1046 L1044,1046 L1044,1049 L1062,1049 L1062,1093 L1044,1093 L1044,1098 L1003,1098 L1003,1093 L985,1093 Z"/><circle class="p" cx="1010" cy="1053" r="3.5"/><text x="1024" y="1074" font-size="11">SOC7000</text>
<rect class="b" x="1094" y="1012" width="12" height="23"/><rect class="b" x="1108" y="1012" width="18" height="18"/><circle class="p" cx="1114" cy="1018" r="4"/><rect class="b" x="1135" y="1012" width="12" height="25"/><rect class="b" x="1088" y="1038" width="7" height="12"/>
<path class="b" d="M1102,1033 L1133,1033 L1138,1038 L1138,1065 L1133,1070 L1102,1070 L1097,1065 L1097,1038 Z"/><circle class="p" cx="1132" cy="1055" r="4"/><text x="1117" y="1053" font-size="9">U4001</text>
<rect class="b" x="1140" y="1038" width="7" height="12"/><rect class="b" x="1147" y="1038" width="7" height="12"/><rect class="b" x="1140" y="1050" width="7" height="12"/><rect class="b" x="1147" y="1050" width="7" height="12"/>
<rect class="b" x="1086" y="1093" width="8" height="14"/><rect class="g" x="1094" y="1093" width="7" height="16"/><rect class="b" x="1086" y="1108" width="8" height="15"/><rect class="g" x="1082" y="1112" width="12" height="6"/><rect class="b" x="1094" y="1110" width="8" height="14"/>
<rect class="b" x="1103" y="1102" width="27" height="38"/><rect class="b" x="1106" y="1104" width="20" height="3"/><text transform="translate(1117,1125) rotate(-90)" class="s" font-size="6">ANT2016</text>
<rect class="b" x="1140" y="1105" width="8" height="14"/>
<rect class="y" x="973" y="1125" width="18" height="11"/><rect class="d" x="994" y="1124" width="8" height="15"/><rect class="d" x="1003" y="1124" width="8" height="15"/><rect class="d" x="1011" y="1124" width="8" height="15"/><rect class="d" x="1020" y="1124" width="8" height="15"/>
<rect class="b" x="1060" y="1131" width="13" height="7"/>

<!-- ===== BOTTOM SECTION ===== -->
<rect class="b" x="115" y="1212" width="15" height="22"/><rect class="b" x="133" y="1212" width="20" height="12"/><rect class="b" x="153" y="1212" width="10" height="10"/><rect class="b" x="163" y="1212" width="10" height="10"/><rect class="b" x="173" y="1212" width="10" height="10"/>
<rect class="b" x="117" y="1234" width="22" height="63"/><text transform="translate(129,1265) rotate(-90)" font-size="10">L21051</text>
<rect class="b" x="141" y="1224" width="40" height="72"/><circle class="p" cx="152" cy="1234" r="3.5"/><text transform="translate(170,1254) rotate(-90)" font-size="10">U21023</text>
<rect class="b" x="193" y="1227" width="22" height="56"/><text transform="translate(205,1252) rotate(-90)" font-size="10">C21077</text>
<rect class="b" x="218" y="1222" width="8" height="18"/><rect class="b" x="218" y="1240" width="8" height="18"/><rect class="b" x="193" y="1283" width="15" height="7"/>
<rect class="b" x="115" y="1280" width="22" height="14"/><rect class="b" x="115" y="1295" width="22" height="13"/>
<rect class="b" x="140" y="1285" width="38" height="20"/><text x="159" y="1295" font-size="8">C21080</text>
<rect class="b" x="180" y="1282" width="43" height="27"/><text x="202" y="1294" font-size="8">L21050</text>
<rect class="b" x="77" y="1278" width="15" height="26"/><rect class="o" x="82" y="1287" width="6" height="8"/>
<rect class="b" x="68" y="1295" width="22" height="80"/><text transform="translate(80,1333) rotate(-90)" class="s" font-size="5">ANT23000</text>
<rect class="b" x="99" y="1320" width="12" height="12"/><rect class="b" x="104" y="1332" width="12" height="28"/><rect class="b" x="116" y="1320" width="8" height="28"/>
<path class="b" d="M126,1322 L196,1322 L196,1373 L132,1373 L132,1385 L126,1385 Z"/><circle class="p" cx="145" cy="1333" r="4"/><text x="164" y="1347" font-size="11">U23001</text>
<rect class="b" x="199" y="1335" width="19" height="14"/><rect class="b" x="202" y="1350" width="11" height="30"/><rect class="d" x="216" y="1350" width="10" height="28"/><circle class="b" cx="202" cy="1326" r="3"/>
<rect class="b" x="100" y="1360" width="12" height="7"/><rect class="b" x="113" y="1360" width="12" height="7"/><circle class="b" cx="84" cy="1367" r="3"/>
<rect class="b" x="92" y="1368" width="35" height="24"/><circle class="p" cx="124" cy="1381" r="3"/><text x="108" y="1378" font-size="8">U23002</text>
<rect class="g" x="84" y="1374" width="5" height="14"/><rect class="b" x="130" y="1375" width="8" height="16" style="stroke:#11e611"/><rect class="b" x="138" y="1375" width="8" height="16"/><rect class="b" x="148" y="1375" width="28" height="14"/><rect class="b" x="178" y="1375" width="8" height="20" style="stroke:#11e611"/><rect class="b" x="188" y="1370" width="8" height="22"/>
<rect class="b" x="205" y="1385" width="9" height="22"/><rect class="b" x="215" y="1385" width="9" height="22"/><rect class="b" x="205" y="1410" width="9" height="22"/><rect class="b" x="215" y="1410" width="9" height="22"/><rect class="b" x="205" y="1432" width="20" height="12"/>
<path class="b" d="M87,1408 L173,1408 L173,1412 L177,1412 L177,1456 L173,1456 L173,1460 L87,1460 L87,1456 L82,1456 L82,1412 L87,1412 Z"/><circle class="p" cx="132" cy="1448" r="3"/><text x="129" y="1434" font-size="14">SOC24000</text>
<rect class="y" x="257" y="1228" width="10" height="16"/><rect class="y" x="268" y="1228" width="10" height="16"/><rect class="y" x="279" y="1228" width="8" height="12"/><rect class="b" x="290" y="1228" width="8" height="20"/><rect class="b" x="300" y="1228" width="8" height="20"/><rect class="y" x="310" y="1225" width="12" height="10"/><rect class="b" x="310" y="1235" width="10" height="12"/><rect class="b" x="322" y="1228" width="10" height="20"/>
<rect class="b" x="333" y="1226" width="18" height="12"/><rect class="b" x="352" y="1226" width="18" height="12"/><rect class="b" x="371" y="1226" width="18" height="12"/><rect class="b" x="333" y="1240" width="12" height="8"/><rect class="y" x="358" y="1240" width="12" height="8"/><rect class="b" x="370" y="1238" width="12" height="10"/>
<rect class="b" x="255" y="1255" width="125" height="155"/><circle class="p" cx="265" cy="1402" r="4"/><text transform="translate(322,1332) rotate(-90)" font-size="36" font-weight="bold">U22000</text>
<rect class="b" x="244" y="1248" width="9" height="6"/><rect class="b" x="244" y="1262" width="9" height="6"/><rect class="y" x="244" y="1272" width="9" height="8"/><rect class="b" x="244" y="1282" width="9" height="6"/><rect class="y" x="244" y="1290" width="9" height="8"/><rect class="b" x="244" y="1300" width="9" height="6"/><rect class="b" x="244" y="1310" width="9" height="6"/><rect class="b" x="244" y="1320" width="9" height="6"/><rect class="b" x="244" y="1330" width="9" height="6"/><rect class="y" x="244" y="1340" width="9" height="8"/><rect class="b" x="244" y="1350" width="9" height="6"/><rect class="b" x="244" y="1360" width="9" height="6"/><rect class="y" x="244" y="1370" width="9" height="8"/><rect class="b" x="244" y="1380" width="9" height="6"/><rect class="b" x="244" y="1390" width="9" height="6"/>
<rect class="b" x="383" y="1258" width="8" height="6"/><rect class="b" x="383" y="1266" width="8" height="6"/><rect class="b" x="383" y="1274" width="8" height="6"/><rect class="b" x="383" y="1282" width="8" height="6"/><rect class="b" x="383" y="1290" width="8" height="6"/><rect class="b" x="383" y="1298" width="8" height="6"/><rect class="b" x="383" y="1306" width="8" height="6"/><rect class="b" x="383" y="1314" width="8" height="6"/><rect class="b" x="383" y="1322" width="8" height="6"/><rect class="b" x="383" y="1330" width="8" height="6"/><rect class="b" x="383" y="1338" width="8" height="6"/><rect class="b" x="383" y="1346" width="8" height="6"/><rect class="b" x="383" y="1354" width="8" height="6"/><rect class="b" x="383" y="1362" width="8" height="6"/><rect class="b" x="383" y="1370" width="8" height="6"/><rect class="b" x="383" y="1378" width="8" height="6"/><rect class="b" x="383" y="1386" width="8" height="6"/>
<rect class="b" x="260" y="1414" width="7" height="16"/><rect class="b" x="268" y="1414" width="7" height="16"/><rect class="b" x="276" y="1414" width="7" height="16"/><rect class="b" x="284" y="1414" width="7" height="16"/><rect class="b" x="292" y="1414" width="7" height="16"/><rect class="b" x="300" y="1414" width="7" height="16"/><rect class="b" x="308" y="1414" width="7" height="16"/><rect class="b" x="316" y="1414" width="7" height="16"/><rect class="b" x="324" y="1414" width="7" height="16"/><rect class="b" x="332" y="1414" width="7" height="16"/><rect class="b" x="340" y="1414" width="7" height="16"/><rect class="b" x="348" y="1414" width="7" height="16"/><rect class="b" x="356" y="1414" width="7" height="16"/><rect class="y" x="364" y="1414" width="7" height="10"/><rect class="b" x="372" y="1414" width="8" height="16"/><rect class="y" x="375" y="1430" width="16" height="8"/><rect class="g" x="392" y="1418" width="8" height="20"/>
<rect class="b" x="392" y="1255" width="8" height="20"/><rect class="y" x="398" y="1260" width="8" height="10"/>
<rect class="b" x="403" y="1265" width="27" height="33"/><circle class="p" cx="427" cy="1248" r="3"/><text x="416" y="1258" class="s" font-size="6">U21005</text>
<rect class="g" x="425" y="1300" width="33" height="45"/><text transform="translate(440,1322) rotate(-90)" class="s" font-size="6">U22005</text>
<rect class="b" x="403" y="1300" width="8" height="30"/><rect class="b" x="412" y="1300" width="8" height="30"/><rect class="g" x="402" y="1332" width="10" height="12"/>
<rect class="b" x="400" y="1345" width="10" height="20"/><rect class="b" x="411" y="1350" width="10" height="20"/><rect class="b" x="421" y="1350" width="10" height="20"/><rect class="b" x="431" y="1350" width="10" height="20"/><rect class="b" x="441" y="1350" width="10" height="20"/><rect class="b" x="451" y="1360" width="10" height="20"/><rect class="b" x="461" y="1365" width="10" height="12"/>
<rect class="b" x="435" y="1280" width="24" height="12"/><rect class="b" x="460" y="1285" width="8" height="20"/>
<rect class="b" x="463" y="1238" width="10" height="25"/><rect class="b" x="475" y="1235" width="8" height="18"/>
<rect class="b" x="478" y="1252" width="155" height="130"/><circle class="p" cx="632" cy="1378" r="4"/><text x="557" y="1318" font-size="32">U21018</text>
<rect class="b" x="470" y="1283" width="8" height="8"/><rect class="b" x="470" y="1295" width="8" height="8"/><rect class="b" x="470" y="1310" width="8" height="8"/><rect class="b" x="470" y="1325" width="8" height="8"/>
<rect class="b" x="508" y="1240" width="12" height="8"/><rect class="b" x="521" y="1240" width="12" height="8"/><circle class="b" cx="545" cy="1245" r="3"/><circle class="b" cx="551" cy="1245" r="3"/><circle class="b" cx="557" cy="1245" r="3"/>
<rect class="b" x="582" y="1242" width="12" height="8"/><rect class="b" x="596" y="1242" width="12" height="8"/><rect class="g" x="608" y="1242" width="12" height="8"/><rect class="b" x="620" y="1242" width="12" height="8"/><rect class="b" x="634" y="1242" width="12" height="8"/><rect class="b" x="648" y="1242" width="12" height="8"/><rect class="g" x="664" y="1244" width="22" height="12"/><rect class="b" x="688" y="1247" width="15" height="12"/><rect class="b" x="705" y="1247" width="12" height="10"/><rect class="g" x="720" y="1252" width="10" height="8"/>
<rect class="b" x="635" y="1260" width="10" height="20"/><rect class="g" x="640" y="1285" width="12" height="10"/><rect class="b" x="640" y="1300" width="12" height="10"/><rect class="b" x="640" y="1316" width="12" height="10"/><rect class="g" x="640" y="1330" width="12" height="8"/><rect class="g" x="640" y="1348" width="12" height="8"/>
<rect class="b" x="661" y="1267" width="56" height="73"/><text transform="translate(689,1303) rotate(-90)" font-size="13">U21022</text><circle class="p" cx="667" cy="1331" r="3"/>
<rect class="b" x="720" y="1260" width="10" height="10"/><rect class="b" x="735" y="1262" width="12" height="10"/><rect class="g" x="735" y="1275" width="10" height="8"/><rect class="b" x="735" y="1285" width="10" height="20"/><rect class="b" x="735" y="1306" width="12" height="14"/><rect class="g" x="735" y="1322" width="12" height="8"/><rect class="b" x="735" y="1336" width="12" height="16"/><rect class="b" x="720" y="1300" width="12" height="10"/>
<rect class="g" x="655" y="1345" width="28" height="28"/><rect class="b" x="683" y="1345" width="10" height="18"/><rect class="g" x="660" y="1375" width="8" height="12"/><rect class="b" x="670" y="1375" width="12" height="10"/><rect class="b" x="690" y="1335" width="12" height="28"/><rect class="g" x="700" y="1345" width="10" height="18"/><rect class="g" x="710" y="1365" width="10" height="18"/>
<rect class="b" x="747" y="1245" width="103" height="140"/><circle class="p" cx="842" cy="1378" r="4"/><text transform="translate(798,1315) rotate(-90)" font-size="36" font-weight="bold">U21002</text>
<rect class="b" x="728" y="1370" width="12" height="10"/><rect class="b" x="745" y="1385" width="10" height="8"/><rect class="b" x="757" y="1385" width="10" height="8"/><rect class="b" x="770" y="1385" width="10" height="8"/><rect class="b" x="780" y="1378" width="12" height="14"/><rect class="b" x="810" y="1385" width="12" height="8"/><rect class="b" x="823" y="1385" width="12" height="8"/>
<rect class="b" x="852" y="1245" width="10" height="20"/><rect class="g" x="853" y="1268" width="8" height="20"/><rect class="b" x="853" y="1290" width="8" height="20"/><rect class="b" x="853" y="1320" width="8" height="30"/><rect class="b" x="853" y="1355" width="8" height="25"/>
<rect class="b" x="866" y="1240" width="20" height="18"/><rect class="g" x="870" y="1245" width="14" height="8"/><rect class="b" x="890" y="1245" width="12" height="10"/>
<rect class="b" x="858" y="1262" width="77" height="108"/><circle class="p" cx="928" cy="1362" r="4"/><text transform="translate(897,1318) rotate(-90)" font-size="22">U22012</text>
<rect class="b" x="933" y="1250" width="10" height="8"/><rect class="b" x="933" y="1262" width="10" height="8"/><rect class="g" x="933" y="1290" width="10" height="8"/><rect class="g" x="933" y="1302" width="10" height="8"/><rect class="g" x="933" y="1315" width="10" height="8"/><rect class="g" x="933" y="1335" width="10" height="8"/><rect class="g" x="933" y="1348" width="10" height="8"/><rect class="b" x="933" y="1360" width="10" height="8"/>
<rect class="b" x="862" y="1372" width="12" height="10"/><rect class="b" x="876" y="1372" width="12" height="10"/><rect class="b" x="850" y="1390" width="10" height="12"/><rect class="b" x="870" y="1395" width="10" height="8"/>
<rect class="b" x="410" y="1380" width="66" height="60"/><text x="440" y="1416" font-size="11">U21019</text><circle class="p" cx="466" cy="1388" r="3"/>
<rect class="b" x="398" y="1388" width="10" height="30"/><rect class="b" x="476" y="1395" width="10" height="25"/><rect class="g" x="488" y="1405" width="12" height="30"/><rect class="b" x="500" y="1410" width="12" height="25"/><rect class="b" x="513" y="1410" width="18" height="25"/><circle class="p" cx="522" cy="1422" r="3"/>
<rect class="b" x="495" y="1388" width="20" height="12"/><text x="505" y="1394" class="s" font-size="5">F21008</text><rect class="b" x="520" y="1385" width="12" height="8"/><rect class="b" x="535" y="1385" width="12" height="8"/><rect class="b" x="550" y="1385" width="12" height="8"/><rect class="b" x="565" y="1385" width="12" height="8"/>
<rect class="g" x="533" y="1395" width="44" height="45"/><circle class="p" cx="540" cy="1402" r="3"/><text x="555" y="1416" class="s" font-size="7">UF21003</text>
<rect class="b" x="580" y="1388" width="20" height="12"/><rect class="g" x="578" y="1404" width="10" height="20"/><rect class="b" x="588" y="1404" width="6" height="20"/>
<rect class="b" x="592" y="1400" width="38" height="40"/><text x="611" y="1425" font-size="8">U21021</text><circle class="p" cx="624" cy="1415" r="3"/>
<rect class="b" x="633" y="1410" width="8" height="25"/><rect class="g" x="640" y="1408" width="10" height="25"/><rect class="b" x="652" y="1410" width="14" height="10"/><rect class="b" x="652" y="1422" width="14" height="10"/><rect class="b" x="668" y="1412" width="8" height="22"/>
<rect class="b" x="677" y="1405" width="20" height="38"/><circle class="p" cx="690" cy="1430" r="3"/><text transform="translate(686,1420) rotate(-90)" class="s" font-size="7">F21002</text>
<rect class="b" x="699" y="1405" width="10" height="10"/><rect class="g" x="699" y="1420" width="10" height="15"/><rect class="b" x="710" y="1410" width="8" height="25"/><rect class="b" x="720" y="1410" width="8" height="25"/>
<rect class="b" x="737" y="1398" width="28" height="45"/><circle class="p" cx="757" cy="1434" r="3"/><text transform="translate(748,1420) rotate(-90)" class="s" font-size="7">F21000</text>
<rect class="g" x="767" y="1410" width="10" height="25"/><rect class="b" x="777" y="1412" width="10" height="10"/><rect class="b" x="777" y="1424" width="10" height="10"/>
<rect class="b" x="898" y="1393" width="23" height="39"/><text transform="translate(910,1412) rotate(-90)" font-size="8">C7048</text><rect class="b" x="923" y="1398" width="10" height="32"/><rect class="b" x="921" y="1388" width="18" height="7"/>
<rect class="b" x="957" y="1236" width="57" height="220"/><text transform="translate(997,1347) rotate(-90)" font-size="36" font-weight="bold">SUS23000</text>
<rect class="b" x="1020" y="1185" width="68" height="66"/><text x="1055" y="1217" font-size="10">CON23000</text>
<path class="b" d="M1060,1264 L1092,1264 L1092,1270 L1098,1270 L1098,1420 L1092,1420 L1092,1427 L1060,1427 L1060,1420 L1055,1420 L1055,1270 L1060,1270 Z"/><circle class="p" cx="1096" cy="1300" r="3"/><text transform="translate(1078,1347) rotate(-90)" font-size="22">SOC24001</text>
<path class="b" d="M832,1445 L866,1445 L866,1450 L870,1450 L870,1520 L866,1520 L866,1526 L832,1526 L832,1520 L828,1520 L828,1450 L832,1450 Z"/><circle class="p" cx="833" cy="1503" r="3"/><text transform="translate(849,1487) rotate(-90)" font-size="12">SOC21000</text>
<rect class="y" x="894" y="1437" width="17" height="11"/><rect class="d" x="896" y="1451" width="13" height="6"/><rect class="d" x="896" y="1463" width="13" height="6"/><rect class="d" x="896" y="1474" width="13" height="6"/><rect class="d" x="896" y="1486" width="13" height="6"/>
<path class="b" d="M222,1480 L455,1480 L455,1487 L462,1487 L462,1518 L455,1518 L455,1525 L222,1525 L222,1518 L215,1518 L215,1487 L222,1487 Z"/><circle class="p" cx="242" cy="1514" r="3"/><text x="338" y="1503" font-size="24">SOC23001</text>
<path class="b" d="M530,1480 L764,1480 L764,1487 L770,1487 L770,1518 L764,1518 L764,1525 L530,1525 L530,1518 L523,1518 L523,1487 L530,1487 Z"/><circle class="p" cx="742" cy="1490" r="3"/><text x="647" y="1503" font-size="24">SOC23000</text>
<circle class="b" cx="477" cy="1475" r="3.5"/><circle class="b" cx="486" cy="1475" r="3.5"/><circle class="b" cx="568" cy="1531" r="3.5"/><circle class="b" cx="630" cy="1531" r="3.5"/>
</svg>
</body></html>
